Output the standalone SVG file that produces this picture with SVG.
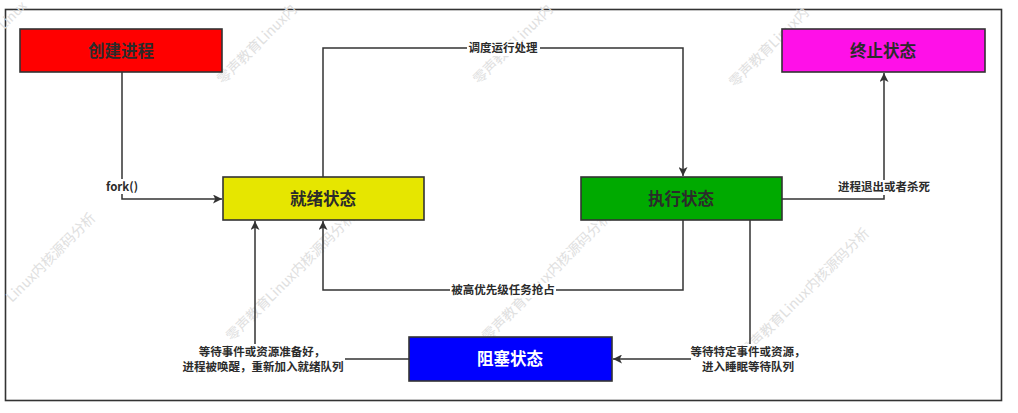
<svg xmlns="http://www.w3.org/2000/svg" width="1018" height="413" viewBox="0 0 1018 413">
  <defs>
    <style>
      .frame { fill: #ffffff; stroke: #333333; stroke-width: 1.6; }
      .box { stroke: #333333; stroke-width: 1.6; }
      .title { font-family: "Noto Sans CJK SC", "Liberation Sans", sans-serif; font-size: 16.5px; font-weight: bold; fill: #2b2b2b; text-anchor: middle; }
      .wire { fill: none; stroke: #333333; stroke-width: 1.5; }
      .tag { font-family: "Noto Sans CJK SC", "Liberation Sans", sans-serif; font-size: 11.5px; font-weight: bold; fill: #2b2b2b; text-anchor: middle; }
      .tagbg { fill: #ffffff; }
      .wm { font-family: "Noto Sans CJK SC", "Liberation Sans", sans-serif; font-size: 14px; fill: #e0e0e0; }
    </style>
    <marker id="arrow" viewBox="0 0 10 10" refX="10" refY="5" markerWidth="10" markerHeight="9" markerUnits="userSpaceOnUse" orient="auto">
      <path d="M0,0 L10,5 L0,10 L2.5,5 z" fill="#333333"/>
    </marker>
  </defs>

  <rect width="1018" height="413" fill="#ffffff"/>
  <rect class="frame" x="5.5" y="9.5" width="996" height="391"/>

  <!-- background watermark lattice -->
  <g id="watermark">
    <text class="wm" transform="translate(4,30) rotate(-45)" style="font-size:13px">Linux</text>
    <text class="wm" transform="translate(223,85) rotate(-45)">零声教育Linux内</text>
    <text class="wm" transform="translate(479,85) rotate(-45)">零声教育Linux内</text>
    <text class="wm" transform="translate(735,88) rotate(-45)">零声教育Linux内</text>
    <text class="wm" transform="translate(12,303) rotate(-45)">Linux内核源码分析</text>
    <text class="wm" transform="translate(232,342) rotate(-45)">零声教育Linux内核源码分析</text>
    <text class="wm" transform="translate(488,342) rotate(-45)">零声教育Linux内核源码分析</text>
    <text class="wm" transform="translate(746,358) rotate(-45)">零声教育Linux内核源码分析</text>
  </g>

  <!-- transitions -->
  <g id="connectors">
    <path class="wire" d="M122,72 V199 H222" marker-end="url(#arrow)"/>
    <path class="wire" d="M323,177 V48 H683 V176" marker-end="url(#arrow)"/>
    <path class="wire" d="M683,220 V290 H323 V221" marker-end="url(#arrow)"/>
    <path class="wire" d="M782,199 H884 V73" marker-end="url(#arrow)"/>
    <path class="wire" d="M750,220 V359 H613" marker-end="url(#arrow)"/>
    <path class="wire" d="M409,359 H255 V221" marker-end="url(#arrow)"/>

    <rect class="tagbg" x="104" y="179" width="37" height="15"/>
    <text class="tag" x="122" y="191">fork()</text>

    <rect class="tagbg" x="467" y="41" width="73" height="15"/>
    <text class="tag" x="503" y="52">调度运行处理</text>

    <rect class="tagbg" x="450" y="283" width="106" height="15"/>
    <text class="tag" x="503" y="294">被高优先级任务抢占</text>

    <rect class="tagbg" x="836" y="180" width="96" height="15"/>
    <text class="tag" x="884" y="191">进程退出或者杀死</text>

    <rect class="tagbg" x="691" y="344" width="113" height="30"/>
    <text class="tag" x="748" y="356">等待特定事件或资源，</text>
    <text class="tag" x="748" y="371">进入睡眠等待队列</text>

    <rect class="tagbg" x="182" y="344" width="163" height="30"/>
    <text class="tag" x="262" y="356">等待事件或资源准备好，</text>
    <text class="tag" x="263" y="371">进程被唤醒，重新加入就绪队列</text>
  </g>

  <g id="create">
    <rect class="box" x="20" y="29" width="202" height="43" fill="#ff0000"/>
    <text class="title" x="121" y="56.5">创建进程</text>
  </g>

  <g id="terminated">
    <rect class="box" x="782" y="29" width="203" height="43" fill="#ff10e8"/>
    <text class="title" x="883" y="56.5">终止状态</text>
  </g>

  <g id="ready">
    <rect class="box" x="223" y="177" width="201" height="43" fill="#e6e600"/>
    <text class="title" x="323" y="204.5">就绪状态</text>
  </g>

  <g id="running">
    <rect class="box" x="581" y="177" width="201" height="43" fill="#00aa00"/>
    <text class="title" x="681" y="204.5">执行状态</text>
  </g>

  <g id="blocked">
    <rect class="box" x="409" y="337" width="203" height="44" fill="#0000ff"/>
    <text class="title" x="510" y="365" style="fill:#ffffff">阻塞状态</text>
  </g>
</svg>
